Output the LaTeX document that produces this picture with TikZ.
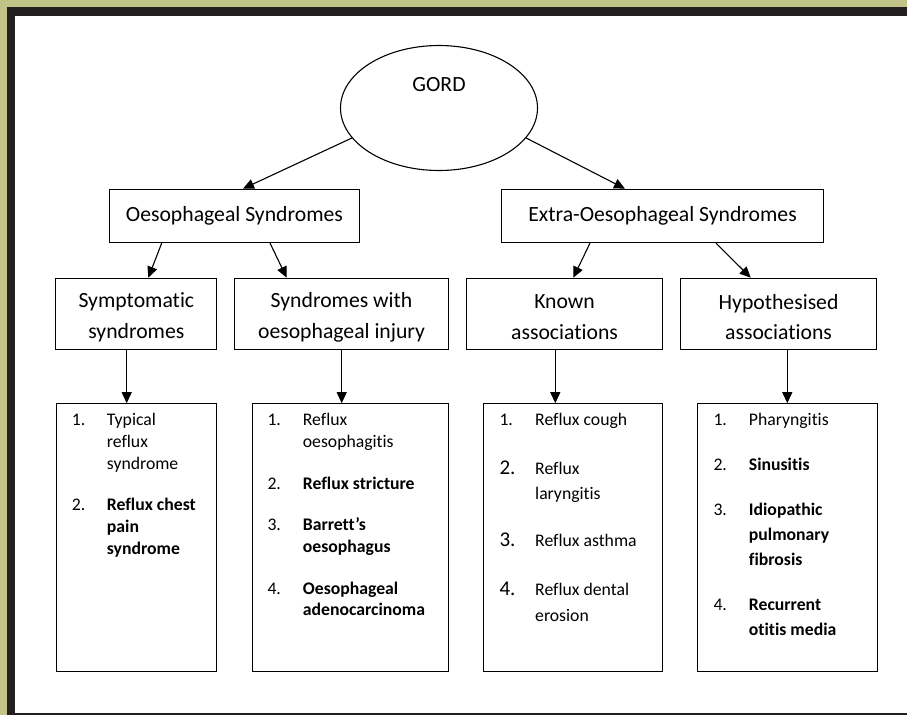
\documentclass[tikz,border=0pt]{standalone}
\usepackage{fontspec}
\setmainfont{Carlito}[RawFeature=-liga]
\usetikzlibrary{shapes.geometric,arrows.meta}
\definecolor{frameolive}{HTML}{C2C386}
\definecolor{framedark}{HTML}{231F20}
\tikzset{
  box/.style={draw=black, line width=1.1pt, inner sep=0pt, anchor=north west},
  arr/.style={draw=black, line width=1.1pt, -{Triangle[length=11pt,width=10pt]}},
  big/.style={font=\fontsize{21.7}{30.7}\selectfont, align=center},
  num/.style={anchor=mid west, inner sep=0pt, font=\fontsize{17.7}{21.7}\selectfont},
  bignum/.style={anchor=mid west, inner sep=0pt, font=\fontsize{21}{25}\selectfont},
  itm/.style={anchor=mid west, inner sep=0pt, font=\fontsize{17.7}{21.7}\selectfont},
  itmb/.style={anchor=mid west, inner sep=0pt, font=\fontsize{17.7}{21.7}\selectfont\bfseries}
}
\begin{document}
\begin{tikzpicture}[x=1pt,y=-1pt]
\useasboundingbox (0,0) rectangle (907,715);
\fill[frameolive] (0,0) rectangle (907,715);
\fill[framedark] (7,7) rectangle (907,715);
\fill[white] (14.7,15.7) rectangle (907,713);

% top ellipse
\node[draw=black, line width=1.1pt, ellipse, minimum width=197pt, minimum height=125pt, inner sep=0pt] (gord) at (439,108) {};
\node[big] (gordtxt) at (439,85) {GORD};

% level 1
\node[box, minimum width=249.7pt, minimum height=53.3pt, big] (oeso) at (109,188.7) {Oesophageal Syndromes};
\node[box, minimum width=321.4pt, minimum height=53.3pt, big] (extra) at (501.3,188.7) {Extra-Oesophageal Syndromes};

% level 2
\node[box, minimum width=161pt, minimum height=71.6pt] (symp) at (55.3,277.7) {};
\node[box, minimum width=214.6pt, minimum height=71.6pt] (inj) at (233.7,277.7) {};
\node[box, minimum width=196.6pt, minimum height=71.6pt] (known) at (465.7,277.7) {};
\node[box, minimum width=196.6pt, minimum height=71.6pt] (hyp) at (679.7,277.7) {};
\node[big, yshift=-3pt] (symptxt) at (symp.center) {Symptomatic\\syndromes};
\node[big, yshift=-3pt] (injtxt) at (inj.center) {Syndromes with\\oesophageal injury};
\node[big, yshift=-3pt] (knowntxt) at (known.center) {Known\\associations};
\node[big, yshift=-3pt] (hyptxt) at (hyp.center) {Hypothesised\\associations};

% level 3
\node[box, minimum width=160.6pt, minimum height=267.5pt] (l1) at (55.7,403.2) {};
\node[box, minimum width=196.6pt, minimum height=267.5pt] (l2) at (251.7,403.2) {};
\node[box, minimum width=179pt, minimum height=267.5pt] (l3) at (483.3,403.2) {};
\node[box, minimum width=179.4pt, minimum height=267.5pt] (l4) at (697.3,403.2) {};

% arrows
\draw[arr] (gord.199) -- ([xshift=134pt]oeso.north west);
\draw[arr] (gord.-19) -- ([xshift=123.7pt]extra.north west);
\draw[arr] ([xshift=52.7pt]oeso.south west) -- ([xshift=93pt]symp.north west);
\draw[arr] ([xshift=161pt]oeso.south west) -- ([xshift=53pt]inj.north west);
\draw[arr] ([xshift=88.7pt]extra.south west) -- ([xshift=107.6pt]known.north west);
\draw[arr] ([xshift=214.7pt]extra.south west) -- ([xshift=71pt]hyp.north west);
\coordinate (c1) at (126.7,0);
\coordinate (c2) at (341.7,0);
\coordinate (c3) at (555.3,0);
\coordinate (c4) at (787.3,0);
\draw[arr] (symp.south -| c1) -- (l1.north -| c1);
\draw[arr] (inj.south -| c2) -- (l2.north -| c2);
\draw[arr] (known.south -| c3) -- (l3.north -| c3);
\draw[arr] (hyp.south -| c4) -- (l4.north -| c4);

% box 1 items
\node[num] (a1n) at (71.7,423.3) {1.};
\node[itm] (a1a) at (106.7,423.3) {Typical};
\node[itm] (a1b) at (106.7,445) {reflux};
\node[itm] (a1c) at (106.7,466.7) {syndrome};
\node[num] (a2n) at (71.7,508.3) {2.};
\node[itmb] (a2a) at (106.7,508.3) {Reflux chest};
\node[itmb] (a2b) at (106.7,530) {pain};
\node[itmb] (a2c) at (106.7,551.7) {syndrome};

% box 2 items
\node[num] (b1n) at (267.3,423.3) {1.};
\node[itm] (b1a) at (302.7,423.3) {Reflux};
\node[itm] (b1b) at (302.7,445) {oesophagitis};
\node[num] (b2n) at (267.3,486.7) {2.};
\node[itmb] (b2a) at (302.7,486.7) {Reflux stricture};
\node[num] (b3n) at (267.3,528.3) {3.};
\node[itmb] (b3a) at (302.7,528.3) {Barrett’s};
\node[itmb] (b3b) at (302.7,550) {oesophagus};
\node[num] (b4n) at (267.3,591.7) {4.};
\node[itmb] (b4a) at (302.7,591.7) {Oesophageal};
\node[itmb] (b4b) at (302.7,613.3) {adenocarcinoma};

% box 3 items
\node[num] (c1n) at (499.3,423.3) {1.};
\node[itm] (c1a) at (535,423.3) {Reflux cough};
\node[bignum] (c2n) at (499.3,471.7) {2.};
\node[itm] (c2a) at (535,471.7) {Reflux};
\node[itm] (c2b) at (535,496.7) {laryngitis};
\node[bignum] (c3n) at (499.3,544.3) {3.};
\node[itm] (c3a) at (535,544.3) {Reflux asthma};
\node[bignum] (c4n) at (499.3,593.3) {4.};
\node[itm] (c4a) at (535,593.3) {Reflux dental};
\node[itm] (c4b) at (535,618.7) {erosion};

% box 4 items
\node[num] (d1n) at (713.3,423.3) {1.};
\node[itm] (d1a) at (748.7,423.3) {Pharyngitis};
\node[num] (d2n) at (713.3,467.7) {2.};
\node[itmb] (d2a) at (748.7,467.7) {Sinusitis};
\node[num] (d3n) at (713.3,513.3) {3.};
\node[itmb] (d3a) at (748.7,513.3) {Idiopathic};
\node[itmb] (d3b) at (748.7,537.7) {pulmonary};
\node[itmb] (d3c) at (748.7,562.7) {fibrosis};
\node[num] (d4n) at (713.3,607.7) {4.};
\node[itmb] (d4a) at (748.7,607.7) {Recurrent};
\node[itmb] (d4b) at (748.7,632.7) {otitis media};
\end{tikzpicture}
\end{document}
